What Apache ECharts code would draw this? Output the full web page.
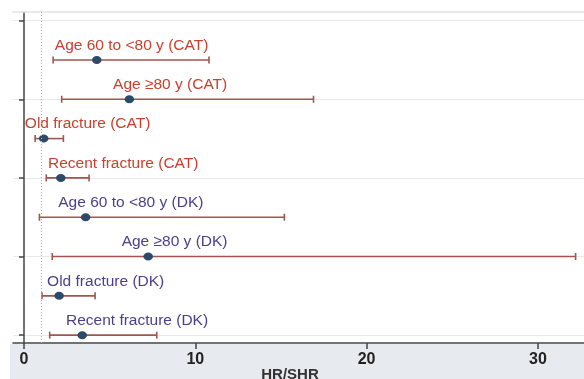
<!DOCTYPE html>
<html>
<head>
<meta charset="utf-8">
<script src="https://cdn.jsdelivr.net/npm/echarts@6/dist/echarts.min.js"></script>
<style>html,body{margin:0;padding:0;background:#fff;}#c{width:584px;height:379px;}</style>
</head>
<body>
<div id="c"></div>
<script>
// Data (top to bottom)
const labels = ["Age 60 to <80 y (CAT)", "Age \u226580 y (CAT)", "Old fracture (CAT)", "Recent fracture (CAT)",
                "Age 60 to <80 y (DK)", "Age \u226580 y (DK)", "Old fracture (DK)", "Recent fracture (DK)"];
const groups = ["CAT", "CAT", "CAT", "CAT", "DK", "DK", "DK", "DK"];
const hr    = [4.25, 6.15, 1.15, 2.15, 3.6, 7.25, 2.05, 3.4];
const lower = [1.7, 2.2, 0.65, 1.3, 0.9, 1.65, 1.05, 1.5];
const upper = [10.8, 16.9, 2.3, 3.8, 15.2, 32.2, 4.15, 7.75];
// x-value where each label text begins
const labelAt = [1.8, 5.2, 0.05, 1.4, 2.0, 5.7, 1.35, 2.45];
const xTicks = [0, 10, 20, 30];
const yTicks = [1, 3, 5, 7, 9];
const refLine = 1;

const colors = {CAT: '#c8412f', DK: '#4a3f8c'};
const n = labels.length;
const rows = labels.map((l, i) => [lower[i], upper[i], hr[i], n - i, labelAt[i], i]);

const chart = echarts.init(document.getElementById('c'));
chart.setOption({
  animation: false,
  backgroundColor: '#ffffff',
  graphic: [{type: 'rect', z: -10, shape: {x: 10, y: 344, width: 574, height: 35}, style: {fill: '#e7ebef'}}],
  grid: {left: 13, right: 0, top: 12, bottom: 36, show: true, backgroundColor: '#fff', borderWidth: 0,
         containLabel: false, outerBoundsMode: 'none'},
  xAxis: [{
    type: 'value', min: -0.642, max: 32.69,
    axisLine: {show: true, lineStyle: {color: '#444', width: 1.5}},
    axisTick: {show: true, length: 6, lineStyle: {color: '#444', width: 1.5}, customValues: xTicks},
    axisLabel: {customValues: xTicks, color: '#222', fontSize: 16, fontWeight: 'bold', fontFamily: 'Liberation Sans, Arial', margin: 9},
    splitLine: {show: false},
    name: 'HR/SHR', nameLocation: 'middle', nameGap: 32, nameMoveOverlap: false,
    nameTextStyle: {color: '#333', fontSize: 15, fontWeight: 'bold', fontFamily: 'Liberation Sans, Arial', padding: [0, 17, 0, 0],
                    verticalAlign: 'middle'}
  }, {
    type: 'value', position: 'top', min: -0.642, max: 32.69,
    axisLine: {show: true, lineStyle: {color: '#e2e2e2', width: 1.5}},
    axisTick: {show: false}, axisLabel: {show: false}, splitLine: {show: false}
  }],
  yAxis: {
    type: 'value', min: 0.8, max: 9.22,
    axisLine: {show: true, lineStyle: {color: '#444', width: 1.5}},
    axisTick: {show: true, length: 5, lineStyle: {color: '#444', width: 1.5}, customValues: yTicks},
    axisLabel: {show: false, customValues: yTicks},
    splitLine: {show: true, lineStyle: {color: '#e8e8e8', width: 1.2}}
  },
  series: [{
    type: 'custom',
    data: rows,
    encode: {x: [0, 1, 2], y: 3},
    clip: false,
    markLine: {
      silent: true, symbol: 'none', label: {show: false},
      lineStyle: {color: '#e09a9a', type: [1, 2], width: 1},
      data: [{xAxis: refLine}]
    },
    renderItem: function (params, api) {
      const y = api.value(3);
      const pL = api.coord([api.value(0), y]);
      const pU = api.coord([api.value(1), y]);
      const pM = api.coord([api.value(2), y]);
      const pT = api.coord([api.value(4), y]);
      const idx = api.value(5);
      const barColor = '#a4544c';
      const cap = 3.5;
      return {
        type: 'group',
        children: [
          {type: 'line', shape: {x1: pL[0], y1: pL[1], x2: pU[0], y2: pU[1]}, style: {stroke: barColor, lineWidth: 1.6}},
          {type: 'line', shape: {x1: pL[0], y1: pL[1] - cap, x2: pL[0], y2: pL[1] + cap}, style: {stroke: barColor, lineWidth: 1.6}},
          {type: 'line', shape: {x1: pU[0], y1: pU[1] - cap, x2: pU[0], y2: pU[1] + cap}, style: {stroke: barColor, lineWidth: 1.6}},
          {type: 'ellipse', shape: {cx: pM[0], cy: pM[1], rx: 4.8, ry: 4}, style: {fill: '#2d4a68'}},
          {type: 'text', x: pT[0], y: pT[1] - 14.5, style: {
            text: labels[idx], fill: colors[groups[idx]], fontSize: 15.5,
            fontFamily: 'Liberation Sans, Arial', align: 'left', verticalAlign: 'middle'}}
        ]
      };
    }
  }]
});
</script>
</body>
</html>
